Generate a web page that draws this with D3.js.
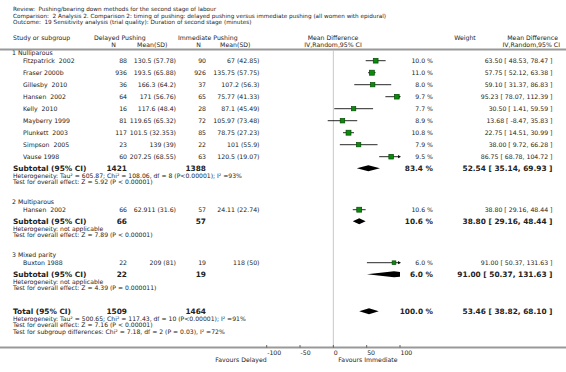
<!DOCTYPE html>
<html>
<head>
<meta charset="utf-8">
<style>
  body { margin: 0; background: #fff; }
  svg text { font-family: "DejaVu Sans", Verdana, sans-serif; fill: #222; white-space: pre; }
</style>
</head>
<body>
<script src="https://d3js.org/d3.v7.min.js"></script>
<script>
var width = 566, height = 372;

// ---- data ----
var titleLines = [
  "Review:  Pushing/bearing down methods for the second stage of labour",
  "Comparison:  2 Analysis 2. Comparison 2: timing of pushing: delayed pushing versus immediate pushing (all women with epidural)",
  "Outcome:  19 Sensitivity analysis (trial quality): Duration of second stage (minutes)"
];
var groups = ["1 Nulliparous", "2 Multiparous", "3 Mixed parity"];
var studies = ["Fitzpatrick  2002", "Fraser 2000b", "Gillesby  2010", "Hansen  2002", "Kelly  2010",
  "Mayberry 1999", "Plunkett  2003", "Simpson  2005", "Vause 1998", "Hansen  2002", "Buxton 1988"];
var studyGroup = [0, 0, 0, 0, 0, 0, 0, 0, 0, 1, 2];
var delayedN = [88, 936, 36, 64, 16, 81, 117, 23, 60, 66, 22];
var delayedMeanSD = ["130.5 (57.78)", "193.5 (65.88)", "166.3 (64.2)", "171 (56.76)", "117.6 (48.4)",
  "119.65 (65.32)", "101.5 (32.353)", "139 (39)", "207.25 (68.55)", "62.911 (31.6)", "209 (81)"];
var immN = [90, 926, 37, 65, 28, 72, 85, 22, 63, 57, 19];
var immMeanSD = ["67 (42.85)", "135.75 (57.75)", "107.2 (56.3)", "75.77 (41.33)", "87.1 (45.49)",
  "105.97 (73.48)", "78.75 (27.23)", "101 (55.9)", "120.5 (19.07)", "24.11 (22.74)", "118 (50)"];
var weight = [10.0, 11.0, 8.0, 9.7, 7.7, 8.9, 10.8, 7.9, 9.5, 10.6, 6.0];
var md = [63.50, 57.75, 59.10, 95.23, 30.50, 13.68, 22.75, 38.00, 86.75, 38.80, 91.00];
var ciLo = [48.53, 52.12, 31.37, 78.07, 1.41, -8.47, 14.51, 9.72, 68.78, 29.16, 50.37];
var ciHi = [78.47, 63.38, 86.83, 112.39, 59.59, 35.83, 30.99, 66.28, 104.72, 48.44, 131.63];

var subDelayedN = [1421, 66, 22];
var subImmN = [1388, 57, 19];
var subWeight = [83.4, 10.6, 6.0];
var subMd = [52.54, 38.80, 91.00];
var subLo = [35.14, 29.16, 50.37];
var subHi = [69.93, 48.44, 131.63];
var subNotes = [
  ["Heterogeneity: Tau\u00b2 = 605.87; Chi\u00b2 = 108.06, df = 8 (P<0.00001); I\u00b2 =93%",
   "Test for overall effect: Z = 5.92 (P < 0.00001)"],
  ["Heterogeneity: not applicable", "Test for overall effect: Z = 7.89 (P < 0.00001)"],
  ["Heterogeneity: not applicable", "Test for overall effect: Z = 4.39 (P = 0.000011)"]
];
var total = { n1: 1509, n2: 1464, w: 100.0, md: 53.46, lo: 38.82, hi: 68.10 };
var totalNotes = [
  "Heterogeneity: Tau\u00b2 = 500.65; Chi\u00b2 = 117.43, df = 10 (P<0.00001); I\u00b2 =91%",
  "Test for overall effect: Z = 7.16 (P < 0.00001)",
  "Test for subgroup differences: Chi\u00b2 = 7.18, df = 2 (P = 0.03), I\u00b2 =72%"
];
var ticks = [-100, -50, 0, 50, 100];

// ---- layout ----
var col = { grp: 12, study: 23, dN: 127, dM: 176, iN: 206, iM: 259.5, w: 433, ci: 552.5 };
var fs = 6.2, fsNote = 6.1, fsBold = 7.4;
var noteGap = 6.2;

var svg = d3.select('body').append('svg').attr('width', width).attr('height', height);
var x = d3.scaleLinear().domain([-100, 100]).range([266.7, 400]);
var sq = d3.scaleSqrt().domain([0, 11]).range([0, 5]);

function txt(s, xx, yy, anchor, size, bold) {
  return svg.append('text').attr('x', xx).attr('y', yy).attr('dy', '0.34em')
    .attr('text-anchor', anchor || 'start')
    .style('font-size', (size || fs) + 'px')
    .style('font-weight', bold ? 'bold' : 'normal')
    .text(s);
}
function fmt2(v) { return v.toFixed(2); }
function ciText(m, lo, hi) { return fmt2(m) + " [ " + fmt2(lo) + ", " + fmt2(hi) + " ]"; }

// title
titleLines.forEach(function (s, i) { txt(s, 13, 9.5 + i * 6.3, 'start', 5.7); });

// header
txt("Study or subgroup", 13, 38);
txt("Delayed Pushing", 94, 38);
txt("N", 113.5, 44.8, 'middle');
txt("Mean(SD)", 167.5, 44.8, 'end');
txt("Immediate Pushing", 178, 38);
txt("N", 198.5, 44.8, 'middle');
txt("Mean(SD)", 250.5, 44.8, 'end');
txt("Mean Difference", 333, 38, 'middle');
txt("IV,Random,95% CI", 333, 44.8, 'middle');
txt("Weight", 465, 38, 'middle');
txt("Mean Difference", 558, 38, 'end');
txt("IV,Random,95% CI", 560, 44.8, 'end');

svg.append('line').attr('x1', 0).attr('x2', width).attr('y1', 49.5).attr('y2', 49.5)
  .attr('stroke', '#999').attr('stroke-width', 2);

// compute row positions
var rowY = [], subY = [], noteY = [], grpY = [];
var y = 53.3;
groups.forEach(function (g, gi) {
  grpY[gi] = y;
  var first = true;
  studies.forEach(function (s, i) {
    if (studyGroup[i] !== gi) return;
    y += first ? 7.4 : 12;
    first = false;
    rowY[i] = y;
  });
  y += 11.6; subY[gi] = y;
  y += 7.8; noteY[gi] = [y, y + noteGap];
  y += noteGap;
  y += 20;
});
var totalY = noteY[2][1] + 23;
var axisY = 347.5;

// zero line
svg.append('line').attr('x1', x(0)).attr('x2', x(0)).attr('y1', 50.5).attr('y2', axisY)
  .attr('stroke', '#c8c8c8').attr('stroke-width', 1);

// clip for diamonds
svg.append('clipPath').attr('id', 'plotclip').append('rect')
  .attr('x', x(-100)).attr('y', 0).attr('width', x(100) - x(-100)).attr('height', height);

function diamond(m, lo, hi, yy) {
  var h = 3;
  svg.append('polygon')
    .attr('points', [[x(lo), yy], [x(m), yy - h], [x(hi), yy], [x(m), yy + h]].join(' '))
    .attr('fill', '#000').attr('clip-path', 'url(#plotclip)');
}

// group rows
groups.forEach(function (g, gi) {
  txt(g, col.grp, grpY[gi]);
  txt("Subtotal (95% CI)", 13, subY[gi], 'start', fsBold, true);
  txt(subDelayedN[gi], col.dN, subY[gi], 'end', fsBold, true);
  txt(subImmN[gi], col.iN, subY[gi], 'end', fsBold, true);
  txt(subWeight[gi].toFixed(1) + " %", col.w, subY[gi], 'end', fsBold, true);
  txt(ciText(subMd[gi], subLo[gi], subHi[gi]), col.ci, subY[gi], 'end', fsBold, true);
  diamond(subMd[gi], subLo[gi], subHi[gi], subY[gi]);
  txt(subNotes[gi][0], 13, noteY[gi][0], 'start', fsNote);
  txt(subNotes[gi][1], 13, noteY[gi][1], 'start', fsNote);
});

// study rows
studies.forEach(function (s, i) {
  var yy = rowY[i];
  txt(s, col.study, yy);
  txt(delayedN[i], col.dN, yy, 'end');
  txt(delayedMeanSD[i], col.dM, yy, 'end');
  txt(immN[i], col.iN, yy, 'end');
  txt(immMeanSD[i], col.iM, yy, 'end');
  txt(weight[i].toFixed(1) + " %", col.w, yy, 'end');
  txt(ciText(md[i], ciLo[i], ciHi[i]), col.ci, yy, 'end');

  var lo = Math.max(ciLo[i], -100), hi = Math.min(ciHi[i], 100);
  svg.append('line').attr('x1', x(lo)).attr('x2', x(hi)).attr('y1', yy).attr('y2', yy)
    .attr('stroke', '#111').attr('stroke-width', 0.9);
  if (ciHi[i] > 100) {
    svg.append('polygon')
      .attr('points', [[x(100) + 1, yy], [x(100) - 2, yy - 1.6], [x(100) - 2, yy + 1.6]].join(' '))
      .attr('fill', '#111');
  }
  var s2 = sq(weight[i]);
  svg.append('rect').attr('x', x(md[i]) - s2 / 2).attr('y', yy - s2 / 2)
    .attr('width', s2).attr('height', s2)
    .attr('fill', '#0b8a0b').attr('stroke', '#044d04').attr('stroke-width', 0.7);
});

// total
txt("Total (95% CI)", 13, totalY, 'start', fsBold, true);
txt(total.n1, col.dN, totalY, 'end', fsBold, true);
txt(total.n2, col.iN, totalY, 'end', fsBold, true);
txt(total.w.toFixed(1) + " %", col.w, totalY, 'end', fsBold, true);
txt(ciText(total.md, total.lo, total.hi), col.ci, totalY, 'end', fsBold, true);
diamond(total.md, total.lo, total.hi, totalY);
totalNotes.forEach(function (s, i) { txt(s, 13, totalY + 7.8 + i * noteGap, 'start', fsNote); });

// axis
svg.append('line').attr('x1', 0).attr('x2', width).attr('y1', axisY).attr('y2', axisY)
  .attr('stroke', '#999').attr('stroke-width', 2);
ticks.forEach(function (t) {
  svg.append('line').attr('x1', x(t)).attr('x2', x(t)).attr('y1', axisY - 2.5).attr('y2', axisY)
    .attr('stroke', '#444').attr('stroke-width', 0.8);
  txt(t, x(t) + 0.5, axisY + 5.5, 'start');
});
txt("Favours Delayed", x(-100), axisY + 12.5, 'end');
txt("Favours Immediate", x(0) + 5, axisY + 12.5, 'start');
</script>
</body>
</html>
